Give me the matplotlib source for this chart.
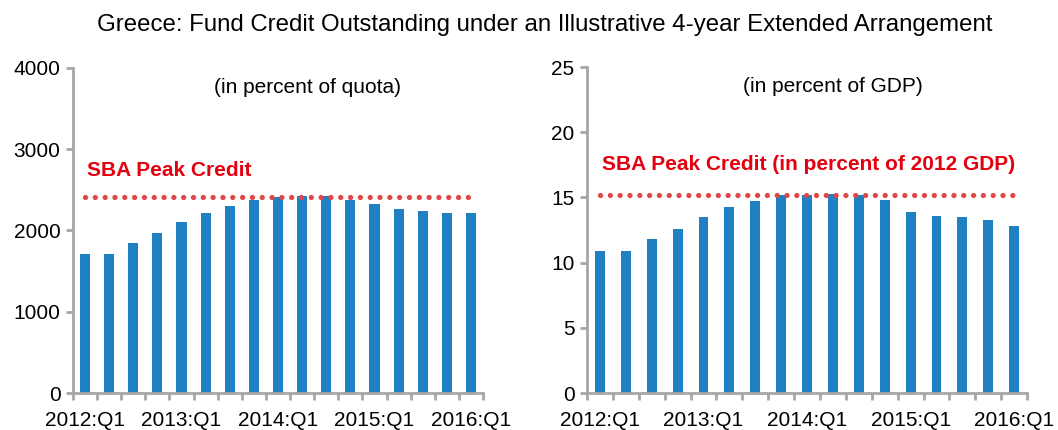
import numpy as np
import matplotlib
matplotlib.use("Agg")
import matplotlib.pyplot as plt

plt.rcParams['font.family'] = ['Liberation Sans', 'DejaVu Sans']

# --- data
quarters = ['2012:Q1', '2012:Q2', '2012:Q3', '2012:Q4',
            '2013:Q1', '2013:Q2', '2013:Q3', '2013:Q4',
            '2014:Q1', '2014:Q2', '2014:Q3', '2014:Q4',
            '2015:Q1', '2015:Q2', '2015:Q3', '2015:Q4',
            '2016:Q1']
quota_pct = [1710, 1710, 1850, 1970, 2100, 2220, 2300, 2370, 2410,
             2430, 2430, 2380, 2320, 2260, 2240, 2220, 2220]
gdp_pct = [10.9, 10.9, 11.8, 12.6, 13.5, 14.3, 14.7, 15.2, 15.2,
           15.3, 15.2, 14.8, 13.9, 13.6, 13.5, 13.3, 12.8]
sba_peak_quota = 2410
sba_peak_gdp = 15.2

BLUE = '#1f80c2'
RED = '#e3000f'
DOT = '#e04848'
GREY = '#a6a6a6'

fig = plt.figure(figsize=(10.58, 4.30), dpi=100)
axL = fig.add_axes([0.069, 0.086, 0.3875, 0.756])
axR = fig.add_axes([0.5548, 0.086, 0.416, 0.758])

fig.text(0.515, 0.942, 'Greece: Fund Credit Outstanding under an Illustrative '
         '4-year Extended Arrangement', ha='center', va='center',
         fontsize=17.3)

panels = [
    (axL, quota_pct, sba_peak_quota, 4000, 1000, 0.42,
     '(in percent of quota)', 0.573, 'SBA Peak Credit', 0.683),
    (axR, gdp_pct, sba_peak_gdp, 25, 5, 0.38,
     '(in percent of GDP)', 0.559,
     'SBA Peak Credit (in percent of 2012 GDP)', 0.702),
]

x = np.arange(len(quarters))
for ax, vals, peak, ymax, step, bw, sub, subx, lab, laby in panels:
    ax.bar(x, vals, width=bw, color=BLUE, zorder=2)
    ax.plot(x, np.full(len(x), peak), color=DOT, lw=3.8,
            ls=(0, (0.01, 1.85)), dash_capstyle='round', zorder=3)
    ax.set_xlim(-0.5, len(x) - 0.5)
    ax.set_ylim(0, ymax)
    ax.set_yticks(np.arange(0, ymax + step, step))
    ax.set_xticks(x[::4])
    ax.set_xticklabels(quarters[::4])
    ax.set_xticks(np.arange(-0.5, len(x), 1.0), minor=True)
    ax.tick_params(axis='x', which='major', length=0, labelsize=15, pad=13)
    ax.tick_params(axis='x', which='minor', length=5, width=2, color=GREY)
    ax.tick_params(axis='y', length=5, width=2, color=GREY, labelsize=15,
                   pad=4)
    for s in ('top', 'right'):
        ax.spines[s].set_visible(False)
    for s in ('left', 'bottom'):
        ax.spines[s].set_color(GREY)
        ax.spines[s].set_linewidth(2)
    ax.text(subx, 0.94, sub, transform=ax.transAxes, ha='center',
            va='center', fontsize=15)
    ax.text(0.035, laby, lab, transform=ax.transAxes, ha='left',
            va='center', fontsize=15, color=RED, fontweight='bold')

fig.savefig('out.png', dpi=100)
